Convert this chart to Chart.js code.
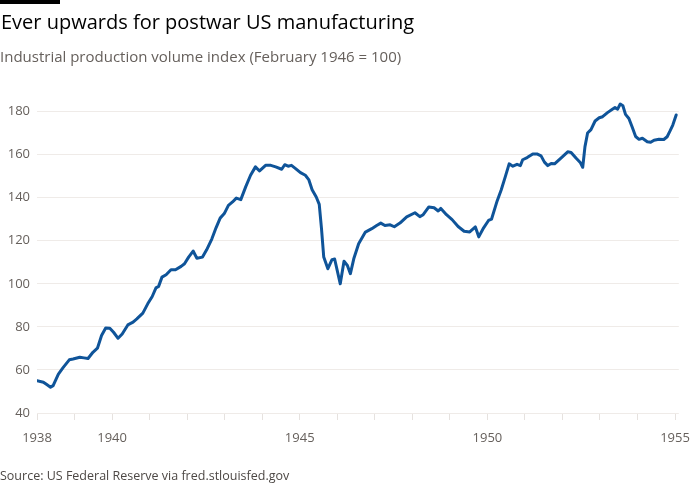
<!DOCTYPE html>
<html>
<head>
<meta charset="utf-8">
<script src="https://cdn.jsdelivr.net/npm/chart.js"></script>
<style>
  body { margin: 0; background: #fff; font-family: "Open Sans", sans-serif; }
  #wrap { position: relative; width: 700px; height: 500px; overflow: hidden; }
  #bar { position: absolute; left: 0; top: 0; width: 60px; height: 4px; background: #000; }
  #title { position: absolute; left: 1px; top: 8px; font-size: 20px; color: #000; white-space: nowrap; }
  #sub { position: absolute; left: 0; top: 46px; font-size: 15px; color: #66605c; white-space: nowrap; }
  #src { position: absolute; left: 0; top: 467px; font-size: 12.5px; color: #4d4845; white-space: nowrap; }
  canvas { position: absolute; left: 0; top: 0; }
</style>
</head>
<body>
<div id="wrap">
  <canvas id="chart" width="700" height="500"></canvas>
  <div id="bar"></div>
  <div id="title">Ever upwards for postwar US manufacturing</div>
  <div id="sub">Industrial production volume index (February 1946 = 100)</div>
  <div id="src">Source: US Federal Reserve via fred.stlouisfed.gov</div>
</div>
<script>
  // dates as decimal years
  const dates = [
    1938.00, 1938.17, 1938.26, 1938.36, 1938.43, 1938.57, 1938.70, 1938.86, 1938.96,
    1939.14, 1939.25, 1939.36, 1939.49, 1939.61, 1939.72, 1939.83, 1939.94,
    1940.04, 1940.16, 1940.27, 1940.42, 1940.56, 1940.66, 1940.82, 1940.95,
    1941.07, 1941.17, 1941.24, 1941.33, 1941.44, 1941.57, 1941.69, 1941.84, 1941.93,
    1942.04, 1942.16, 1942.26, 1942.41, 1942.52, 1942.66, 1942.77, 1942.88, 1942.99,
    1943.10, 1943.21, 1943.31, 1943.43, 1943.56, 1943.69, 1943.82, 1943.93,
    1944.09, 1944.23, 1944.36, 1944.52, 1944.60, 1944.69, 1944.78, 1944.89,
    1945.02, 1945.15, 1945.24, 1945.33, 1945.44, 1945.52, 1945.58, 1945.64, 1945.75, 1945.86, 1945.93,
    1946.08, 1946.18, 1946.27, 1946.35, 1946.44, 1946.57, 1946.75, 1946.92,
    1947.05, 1947.16, 1947.27, 1947.41, 1947.52, 1947.67, 1947.85,
    1948.07, 1948.20, 1948.29, 1948.44, 1948.58, 1948.69, 1948.76, 1948.91,
    1949.06, 1949.22, 1949.38, 1949.53, 1949.68, 1949.77, 1949.90,
    1950.03, 1950.11, 1950.26, 1950.37, 1950.48, 1950.58, 1950.68, 1950.79, 1950.88, 1950.94,
    1951.06, 1951.21, 1951.32, 1951.43, 1951.52, 1951.61, 1951.70, 1951.79, 1951.96,
    1952.14, 1952.23, 1952.36, 1952.48, 1952.54, 1952.60, 1952.67, 1952.76, 1952.87, 1952.98,
    1953.07, 1953.20, 1953.33, 1953.40, 1953.47, 1953.54, 1953.61, 1953.68, 1953.77, 1953.86, 1953.95,
    1954.04, 1954.13, 1954.26, 1954.35, 1954.44, 1954.57, 1954.70, 1954.79, 1954.87, 1954.94,
    1955.03
  ];

  const indexValues = [
    55.0, 54.3, 53.2, 52.0, 52.7, 58.1, 61.2, 64.7, 65.1,
    65.9, 65.6, 65.3, 68.2, 70.1, 76.0, 79.5, 79.4,
    77.5, 74.7, 76.7, 80.9, 82.2, 83.7, 86.4, 90.7,
    94.1, 98.1, 98.8, 103.1, 104.2, 106.5, 106.5, 108.1, 109.3,
    112.4, 115.2, 111.9, 112.4, 115.8, 120.9, 126.0, 130.5, 132.6,
    136.4, 138.0, 139.8, 139.1, 145.0, 150.4, 154.3, 152.4,
    155.0, 155.0, 154.3, 153.2, 155.3, 154.6, 155.0, 153.5,
    151.6, 150.4, 148.4, 143.7, 140.3, 136.9, 125.6, 112.4, 107.0, 111.2, 111.5,
    100.0, 110.5, 108.5, 104.7, 111.6, 118.6, 124.0, 125.6,
    127.1, 128.2, 127.1, 127.4, 126.5, 128.2, 131.1,
    133.0, 131.2, 132.1, 135.7, 135.3, 133.8, 135.0, 132.1,
    129.8, 126.6, 124.4, 124.1, 126.4, 121.8, 126.0,
    129.4, 130.0, 138.5, 143.7, 149.9, 155.7, 154.6, 155.5, 154.9, 157.6,
    158.6, 160.3, 160.3, 159.4, 156.5, 154.9, 155.9, 155.7, 158.4,
    161.3, 161.0, 158.4, 156.2, 154.1, 163.7, 170.0, 171.6, 175.6, 177.1,
    177.6, 179.5, 181.1, 181.9, 181.1, 183.5, 182.7, 178.7, 176.8, 172.7, 168.4,
    167.1, 167.6, 166.0, 165.7, 166.7, 167.1, 167.0, 168.3, 171.1, 173.7,
    178.4
  ];

  const yearLabels = [1938, 1940, 1945, 1950, 1955];
  const yTicks = [40, 60, 80, 100, 120, 140, 160, 180];

  const points = dates.map((d, i) => ({ x: d, y: indexValues[i] }));
  const tickFont = { family: '"Open Sans", sans-serif', size: 13 };

  new Chart(document.getElementById('chart'), {
    type: 'line',
    data: {
      datasets: [{
        data: points,
        borderColor: '#0f5499',
        borderWidth: 3,
        pointRadius: 0,
        tension: 0,
        borderJoinStyle: 'round',
        borderCapStyle: 'round'
      }]
    },
    options: {
      responsive: false,
      animation: false,
      layout: { padding: { top: 90, right: 15, left: 0, bottom: 0 } },
      plugins: { legend: { display: false }, tooltip: { enabled: false } },
      scales: {
        x: {
          type: 'linear',
          min: 1938,
          max: 1955.1,
          afterBuildTicks: s => {
            const t = [];
            for (let y = 1938; y <= 1955; y++) t.push({ value: y });
            s.ticks = t;
          },
          afterFit: s => { s.height = 87; },
          ticks: {
            autoSkip: false,
            maxRotation: 0,
            padding: 10,
            color: '#66605c',
            font: tickFont,
            callback: v => (yearLabels.includes(v) ? String(v) : '')
          },
          grid: {
            drawOnChartArea: false,
            drawTicks: true,
            tickLength: 7,
            tickColor: '#e6e2df'
          },
          border: { display: false }
        },
        y: {
          min: 40,
          max: 190,
          afterBuildTicks: s => { s.ticks = yTicks.map(v => ({ value: v })); },
          afterFit: s => { s.width = 37; },
          ticks: {
            padding: 7,
            color: '#66605c',
            font: tickFont
          },
          grid: {
            color: '#efebe8',
            drawTicks: false
          },
          border: { display: false }
        }
      }
    }
  });
</script>
</body>
</html>
